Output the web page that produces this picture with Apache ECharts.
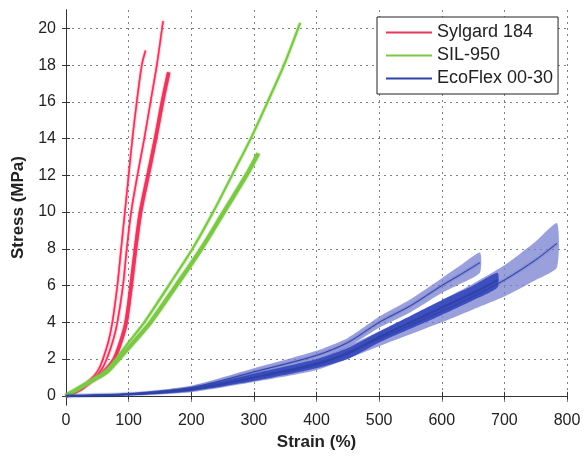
<!DOCTYPE html>
<html>
<head>
<meta charset="utf-8">
<script src="https://cdn.jsdelivr.net/npm/echarts@6/dist/echarts.min.js"></script>
<style>
html, body { margin: 0; padding: 0; background: #fff; }
#chart { width: 584px; height: 456px; }
</style>
</head>
<body>
<div id="chart"></div>
<script>
// tick labels
var xTicks = [0, 100, 200, 300, 400, 500, 600, 700, 800];
var yTicks = [0, 2, 4, 6, 8, 10, 12, 14, 16, 18, 20];

// Sylgard 184 - three samples, [strain %, stress MPa]
var sylA = [[0,0],[20,0.35],[35,0.75],[45,1.1],[53,1.5],[59,2],[68,3],[74,4],[82,6],[88,8],[94,10],[100,12],[106,14],[113,16],[121,18],[127,18.8]];
var sylB = [[0,0],[22,0.4],[38,0.8],[49,1.1],[58,1.5],[65,2],[75,3],[82,4],[91,6],[97,8],[104,10],[114,12],[125,14],[135,16],[145,18],[155,20.4]];
var sylC = [[0,0],[25,0.4],[40,0.8],[54,1.1],[66,1.5],[77,2],[88,3],[96,4],[104,6],[111,8],[119,10],[131,12],[143,14],[154,16],[164,17.6]];

// SIL-950 - two samples
var silA = [[0,0],[20,0.4],[45,0.9],[65,1.4],[80,2],[102,3],[125,4],[164,6],[202,8],[235,10],[265,12],[295,14],[322,16],[348,18],[374,20.3]];
var silB = [[0,0],[20,0.4],[45,0.9],[65,1.3],[84,2],[110,3],[135,4],[176,6],[216,8],[252,10],[288,12],[307,13.2]];

// EcoFlex 00-30 - three samples with spread
var ecoX1 = [0, 100, 200, 300, 400, 450, 500, 550, 600, 630, 661];
var ecoY1 = [0, 0.1, 0.45, 1.3, 2.2, 2.9, 4.0, 4.9, 6.0, 6.6, 7.25];
var ecoLo1 = [0, 0.05, 0.35, 1.1, 2.0, 2.65, 3.7, 4.55, 5.6, 6.1, 6.7];
var ecoHi1 = [0, 0.15, 0.55, 1.5, 2.45, 3.15, 4.3, 5.25, 6.4, 7.1, 7.8];

var ecoX2 = [0, 100, 200, 300, 400, 450, 500, 550, 600, 650, 689];
var ecoY2 = [0, 0.08, 0.35, 1.0, 1.75, 2.3, 3.2, 4.0, 4.8, 5.6, 6.3];
var ecoLo2 = [0, 0.03, 0.25, 0.8, 1.5, 2.0, 2.9, 3.65, 4.4, 5.2, 5.9];
var ecoHi2 = [0, 0.13, 0.45, 1.2, 2.0, 2.6, 3.5, 4.35, 5.2, 6.0, 6.7];

var ecoX3 = [0, 100, 200, 300, 400, 500, 600, 650, 700, 750, 784];
var ecoY3 = [0, 0.08, 0.35, 1.0, 1.7, 3.1, 4.6, 5.4, 6.3, 7.4, 8.3];
var ecoLo3 = [0, 0.03, 0.2, 0.75, 1.4, 2.7, 4.0, 4.7, 5.4, 6.3, 7.0];
var ecoHi3 = [0, 0.13, 0.5, 1.25, 2.0, 3.5, 5.2, 6.1, 7.1, 8.4, 9.4];

var RED = '#e8365d';
var GREEN = '#7cc846';
var BLUE = '#2f42a8';

function zip(xs, ys) {
    return xs.map(function (x, i) { return [x, ys[i]]; });
}

function lineSeries(name, data, color, width) {
    return {
        name: name,
        type: 'line',
        data: data,
        showSymbol: false,
        smooth: 0.3,
        color: color,
        lineStyle: { width: width, color: color, shadowColor: color, shadowBlur: 2 },
        z: 3
    };
}

// shaded spread drawn as a polygon through the axis scales
function bandSeries(xs, lo, hi, fill) {
    return {
        type: 'custom',
        silent: true,
        data: [[xs[0], lo[0]]],
        renderItem: function (params, api) {
            var pts = [];
            for (var i = 0; i < xs.length; i++) pts.push(api.coord([xs[i], hi[i]]));
            for (var j = xs.length - 1; j >= 0; j--) pts.push(api.coord([xs[j], lo[j]]));
            return { type: 'polygon', shape: { points: pts, smooth: 0.2 }, style: { fill: fill } };
        },
        z: 2
    };
}

var tickFont = { fontFamily: 'Liberation Sans', fontSize: 16, color: '#222' };
var nameFont = { fontFamily: 'Liberation Sans', fontSize: 17, fontWeight: 'bold', color: '#222' };
var frame = { show: true, lineStyle: { color: '#333', width: 1 } };
var dotted = { show: true, lineStyle: { color: '#808080', width: 1, type: [2, 4] } };

var chart = echarts.init(document.getElementById('chart'));
var option = {
    animation: false,
    grid: { left: 66, right: 17, top: 10, bottom: 51 },
    legend: {
        orient: 'vertical',
        left: 377,
        top: 17,
        padding: [6, 5, 6, 9],
        itemGap: 4,
        itemWidth: 46,
        itemHeight: 2,
        icon: 'rect',
        backgroundColor: '#fff',
        borderColor: '#222',
        borderWidth: 1,
        textStyle: { fontFamily: 'Liberation Sans', fontSize: 18, color: '#222', lineHeight: 19 },
        data: ['Sylgard 184', 'SIL-950', 'EcoFlex 00-30']
    },
    xAxis: [{
        type: 'value',
        min: xTicks[0], max: xTicks[xTicks.length - 1], interval: 100,
        name: 'Strain (%)',
        nameLocation: 'middle',
        nameGap: 27,
        nameTextStyle: nameFont,
        axisLine: frame,
        axisTick: { show: true, inside: true, length: 4, lineStyle: { color: '#333' } },
        axisLabel: Object.assign({ margin: 8 }, tickFont),
        splitLine: dotted
    }, {
        type: 'value', position: 'top',
        min: xTicks[0], max: xTicks[xTicks.length - 1], interval: 100,
        axisLine: frame,
        axisTick: { show: true, inside: true, length: 4, lineStyle: { color: '#333' } },
        axisLabel: { show: false },
        splitLine: { show: false }
    }],
    yAxis: [{
        type: 'value',
        min: -0.5, max: 21,
        name: 'Stress (MPa)',
        nameLocation: 'middle',
        nameGap: 34,
        nameTextStyle: nameFont,
        axisLine: frame,
        axisTick: { show: true, inside: true, length: 4, lineStyle: { color: '#333' }, customValues: yTicks },
        axisLabel: Object.assign({ margin: 10, customValues: yTicks }, tickFont),
        splitLine: dotted
    }, {
        type: 'value', position: 'right',
        min: -0.5, max: 21,
        axisLine: frame,
        axisTick: { show: true, inside: true, length: 4, lineStyle: { color: '#333' }, customValues: yTicks },
        axisLabel: { show: false, customValues: yTicks },
        splitLine: { show: false }
    }],
    series: [
        bandSeries(ecoX3, ecoLo3, ecoHi3, 'rgba(120,128,208,0.75)'),
        bandSeries(ecoX1, ecoLo1, ecoHi1, 'rgba(120,128,208,0.75)'),
        bandSeries(ecoX2, ecoLo2, ecoHi2, 'rgba(52,72,190,0.9)'),
        lineSeries('Sylgard 184', sylA, RED, 1.5),
        lineSeries('Sylgard 184', sylB, RED, 1.5),
        lineSeries('Sylgard 184', sylC, RED, 3.5),
        lineSeries('SIL-950', silA, GREEN, 2),
        lineSeries('SIL-950', silB, GREEN, 4),
        lineSeries('EcoFlex 00-30', zip(ecoX1, ecoY1), BLUE, 1),
        lineSeries('EcoFlex 00-30', zip(ecoX2, ecoY2), BLUE, 1.5),
        lineSeries('EcoFlex 00-30', zip(ecoX3, ecoY3), BLUE, 1)
    ]
};
chart.setOption(option);
</script>
</body>
</html>
